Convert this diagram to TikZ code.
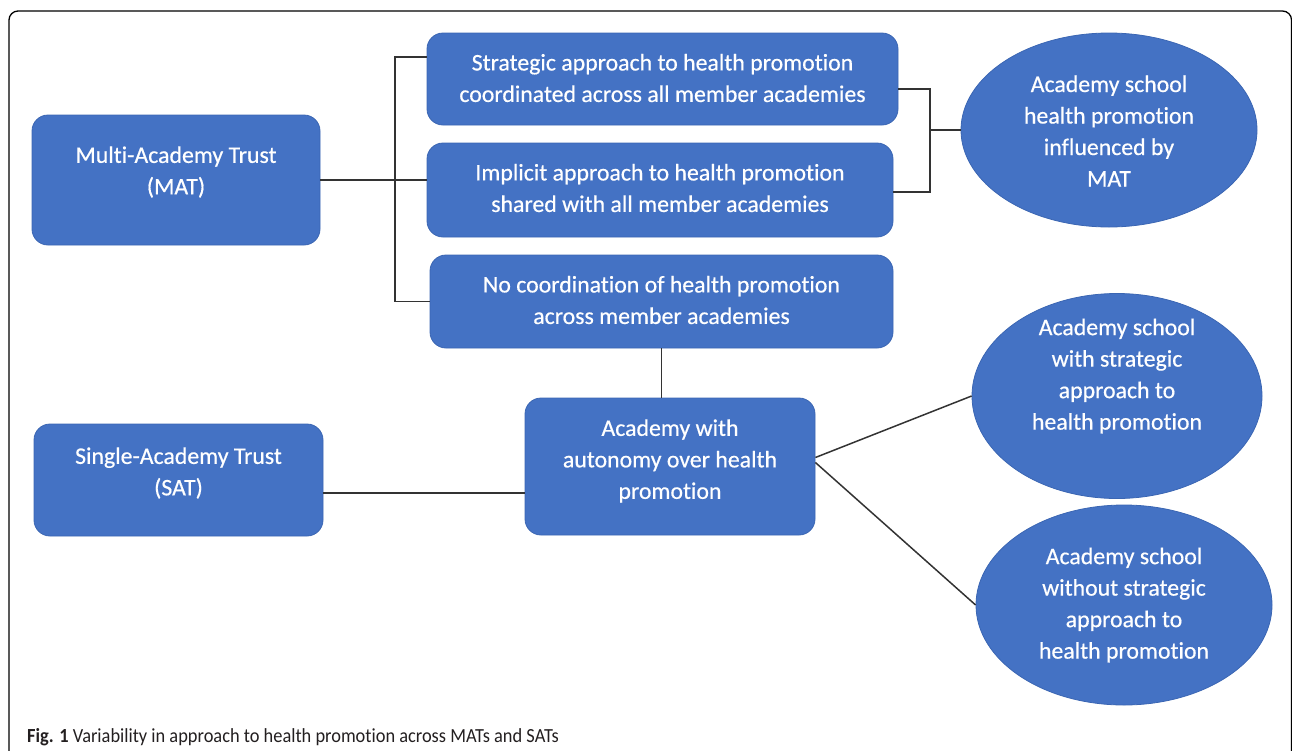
\documentclass[tikz,border=0pt]{standalone}
\usepackage{fontspec}
\setmainfont{Carlito}[Ligatures=NoCommon]
\newfontfamily\boxfont{Carlito}[Ligatures=NoCommon, FakeBold=0.5]
\usetikzlibrary{shapes.geometric}
\definecolor{boxblue}{HTML}{4472C4}
\definecolor{boxedge}{HTML}{3B66B3}
\definecolor{wirec}{HTML}{333333}
\definecolor{capc}{HTML}{231F20}
\begin{document}
\begin{tikzpicture}[x=1pt,y=-1pt,
  box/.style={draw=boxedge, fill=boxblue, rounded corners=16pt, line width=0.8pt, inner sep=0pt},
  oval/.style={ellipse, draw=boxedge, fill=boxblue, line width=0.8pt, inner sep=0pt},
  txt/.style={text=white, align=center, font=\boxfont\fontsize{23.8}{31.5}\selectfont, inner sep=0pt},
  wire/.style={draw=wirec, line width=1.5pt},
  frame/.style={draw=black, line width=1.3pt, rounded corners=9pt}]
\useasboundingbox (0,0) rectangle (1292,750);
\draw[frame] (9,752) -- (9,11) -- (1291.5,11) -- (1291.5,752);

% boxes
\node[box, minimum width=288pt, minimum height=130pt] (mat) at (176,180) {};
\node[txt] (mattxt) at (176,172) {Multi-Academy Trust\\(MAT)};
\node[box, minimum width=471pt, minimum height=92pt] (strat) at (662.5,79) {};
\node[txt] (strattxt) at (662.5,78) {Strategic approach to health promotion\\coordinated across all member academies};
\node[box, minimum width=466pt, minimum height=94pt] (impl) at (660,190) {};
\node[txt] (impltxt) at (660,188) {Implicit approach to health promotion\\shared with all member academies};
\node[box, minimum width=463pt, minimum height=93pt] (nocoord) at (661.5,301.5) {};
\node[txt] (nocoordtxt) at (661.5,300) {No coordination of health promotion\\across member academies};
\node[box, minimum width=290pt, minimum height=137pt] (auton) at (670,466.5) {};
\node[txt] (autontxt) at (670,461) {Academy with\\autonomy over health\\promotion};
\node[box, minimum width=289pt, minimum height=112pt] (sat) at (178.5,480) {};
\node[txt] (sattxt) at (178.5,473) {Single-Academy Trust\\(SAT)};

% ellipses
\node[oval, minimum width=296pt, minimum height=194pt] (ell1) at (1109,130) {};
\node[txt] (ell1txt) at (1109,131) {Academy school\\health promotion\\influenced by\\MAT};
\node[oval, minimum width=290pt, minimum height=205pt] (ell2) at (1117,396) {};
\node[txt] (ell2txt) at (1117,376) {Academy school\\with strategic\\approach to\\health promotion};
\node[oval, minimum width=296pt, minimum height=200pt] (ell3) at (1124,605) {};
\node[txt] (ell3txt) at (1124,605) {Academy school\\without strategic\\approach to\\health promotion};

% connectors
\coordinate (lbtop) at (395,57);
\coordinate (lbbot) at (395,301.5);
\draw[wire] (mat.east) -- (impl.west |- mat.east);
\draw[wire] ([yshift=22pt]strat.west) -- (lbtop) -- (lbbot) -- (nocoord.west);
\coordinate (rbtop) at (930,89);
\coordinate (rbbot) at (930,192);
\coordinate (rbmid) at (930,130);
\draw[wire] ([yshift=-10pt]strat.east) -- (rbtop) -- (rbbot) -- (impl.east |- rbbot);
\draw[wire] (rbmid) -- (ell1.west);
\draw[wire] (nocoord.south) -- (nocoord.south |- auton.north);
\coordinate (satout) at (323,493);
\draw[wire] (satout) -- (auton.west |- satout);
\draw[wire] ([yshift=9pt]auton.east) -- (ell2.west);
\draw[wire] ([yshift=4pt]auton.east) -- (ell3.west);

% caption
\node[anchor=base west, inner sep=0pt, text=capc, font=\fontsize{20}{22}\selectfont] (cap) at (27,742)
  {\scalebox{0.92}[1]{\textbf{Fig. 1} Variability in approach to health promotion across MATs and SATs}};
\end{tikzpicture}
\end{document}
